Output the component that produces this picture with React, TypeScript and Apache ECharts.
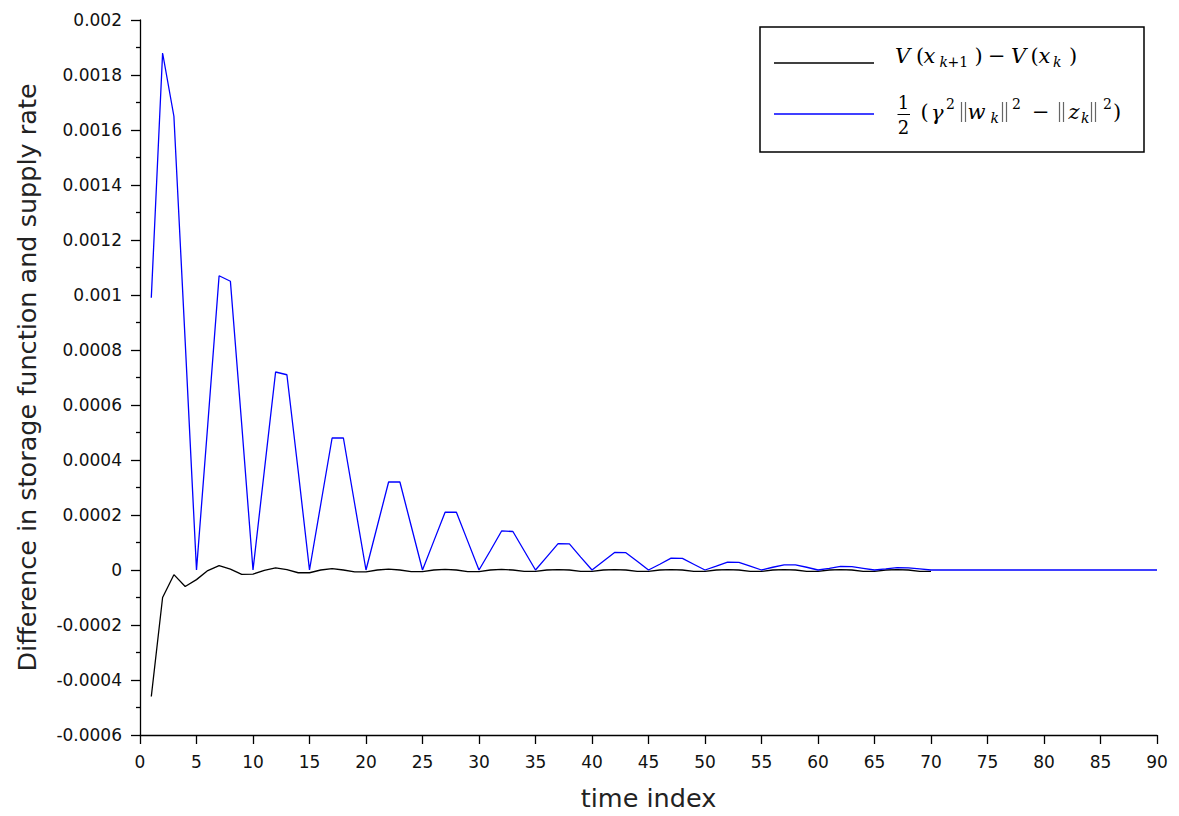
import React, { useEffect, useRef } from "react";
import * as echarts from "echarts";

const timeIndex: number[] = Array.from({ length: 90 }, (_, i) => i + 1);

// V(x_{k+1}) - V(x_k), k = 1..70
const storageDiff: number[] = [
  -0.00046, -0.0001, -0.000017, -0.00006, -0.000035,
  -0.000002, 0.000016, 0.000003, -0.000016, -0.000015,
  -0.000001, 0.000008, 0.000001, -0.00001, -0.00001,
  0.0, 0.000005, 0.0, -0.000007, -0.000007,
  0.0, 0.000003, 0.0, -0.000006, -0.000006,
  0.0, 0.000002, 0.0, -0.000006, -0.000006,
  0.0, 0.000002, 0.0, -0.000005, -0.000005,
  0.0, 0.000001, 0.0, -0.000005, -0.000005,
  0.0, 0.000001, 0.0, -0.000005, -0.000005,
  0.0, 0.000001, 0.0, -0.000005, -0.000005,
  0.0, 0.000001, 0.0, -0.000005, -0.000005,
  0.0, 0.000001, 0.0, -0.000005, -0.000005,
  0.0, 0.000001, 0.0, -0.000005, -0.000005,
  0.0, 0.000001, 0.0, -0.000005, -0.000005,
];

// 1/2 (gamma^2 ||w_k||^2 - ||z_k||^2), k = 1..90
const supplyRate: number[] = [
  0.00099, 0.00188, 0.00165, 0.00083, 0.0,
  0.00053, 0.00107, 0.00105, 0.00053, 0.0,
  0.00036, 0.00072, 0.00071, 0.00036, 0.0,
  0.00024, 0.00048, 0.00048, 0.00024, 0.0,
  0.00016, 0.00032, 0.00032, 0.00016, 0.0,
  0.000105, 0.00021, 0.00021, 0.000105, 0.0,
  0.00007, 0.000142, 0.00014, 0.00007, 0.0,
  0.000048, 0.000096, 0.000095, 0.000047, 0.0,
  0.000032, 0.000064, 0.000063, 0.000032, 0.0,
  0.000021, 0.000043, 0.000042, 0.000021, 0.0,
  0.000014, 0.000029, 0.000028, 0.000014, 0.0,
  0.00001, 0.000019, 0.000019, 0.00001, 0.0,
  0.000006, 0.000013, 0.000012, 0.000006, 0.0,
  0.000004, 0.000009, 0.000008, 0.000004, 0.0,
  0.0, 0.0, 0.0, 0.0, 0.0,
  0.0, 0.0, 0.0, 0.0, 0.0,
  0.0, 0.0, 0.0, 0.0, 0.0,
  0.0, 0.0, 0.0, 0.0, 0.0,
];

const xAxisName = "time index";
const yAxisName = "Difference in storage function and supply rate";

const SERIF = "'DejaVu Serif', 'Liberation Serif', serif";
const SANS = "'DejaVu Sans', sans-serif";

type Piece = [string, number, number, number, boolean];

// legend math: [text, left x, center y, font size, italic]
const line1: Piece[] = [
  ["V", 895, 56, 21, true],
  ["(", 916, 56, 21, false],
  ["x", 923.5, 56, 21, true],
  ["k", 939.5, 62, 14, true],
  ["+1", 947.5, 62, 14, false],
  [")", 974.5, 56, 21, false],
  ["−", 988, 56, 21, false],
  ["V", 1011, 56, 21, true],
  ["(", 1030.5, 56, 21, false],
  ["x", 1038.5, 56, 21, true],
  ["k", 1053, 62, 14, true],
  [")", 1069, 56, 21, false],
];

const line2: Piece[] = [
  ["1", 903.5, 102, 18, false],
  ["2", 903.5, 127, 18, false],
  ["(", 920.5, 112, 21, false],
  ["γ", 931, 113, 21, true],
  ["2", 946, 104, 14, false],
  ["w", 967.5, 112, 21, true],
  ["k", 990.5, 118, 14, true],
  ["2", 1012, 104, 14, false],
  ["−", 1032, 112, 21, false],
  ["z", 1068.5, 112, 21, true],
  ["k", 1081, 118, 14, true],
  ["2", 1103, 104, 14, false],
  [")", 1113, 112, 21, false],
];

// double bars ‖ : left x of each
const bars2: number[] = [960.5, 1001.5, 1058.5, 1090.5];

export default function App() {
  const ref = useRef<HTMLDivElement>(null);

  useEffect(() => {
    if (!ref.current) return;
    const chart = echarts.init(ref.current, null, { renderer: "svg" });

    const pieceEl = (p: Piece, center = false) => ({
      type: "text",
      x: p[1],
      y: p[2],
      style: {
        text: p[0],
        fontFamily: SERIF,
        fontSize: p[3],
        fontStyle: p[4] ? "italic" : "normal",
        fill: "#000",
        align: center ? "center" : "left",
        verticalAlign: "middle",
      },
    });

    const legendChildren: any[] = [
      {
        type: "rect",
        shape: { x: 760, y: 27, width: 384, height: 125 },
        style: { fill: "#fff", stroke: "#000", lineWidth: 1.5 },
      },
      {
        type: "line",
        shape: { x1: 774, y1: 63, x2: 874, y2: 63 },
        style: { stroke: "#000", lineWidth: 1.3 },
      },
      {
        type: "line",
        shape: { x1: 774, y1: 114, x2: 874, y2: 114 },
        style: { stroke: "#0000ff", lineWidth: 1.3 },
      },
      ...line1.map((p) => pieceEl(p)),
      pieceEl(line2[0], true),
      pieceEl(line2[1], true),
      {
        type: "line",
        shape: { x1: 897.5, y1: 114.5, x2: 910, y2: 114.5 },
        style: { stroke: "#000", lineWidth: 1 },
      },
      ...line2.slice(2).map((p) => pieceEl(p)),
    ];
    bars2.forEach((bx) => {
      legendChildren.push({
        type: "line",
        shape: { x1: bx + 1, y1: 102, x2: bx + 1, y2: 122 },
        style: { stroke: "#666", lineWidth: 1.2 },
      });
      legendChildren.push({
        type: "line",
        shape: { x1: bx + 5, y1: 102, x2: bx + 5, y2: 122 },
        style: { stroke: "#666", lineWidth: 1.2 },
      });
    });

    chart.setOption({
      animation: false,
      backgroundColor: "#fff",
      grid: { left: 140, right: 22, top: 20, bottom: 80, containLabel: false },
      xAxis: {
        type: "value",
        min: 0,
        max: 90,
        interval: 5,
        name: xAxisName,
        nameLocation: "middle",
        nameGap: 50,
        nameTextStyle: { fontFamily: SANS, fontSize: 25.5, color: "#222" },
        axisLine: { show: true, onZero: false, lineStyle: { color: "#000", width: 1.3 } },
        axisTick: { show: true, inside: false, length: 9, lineStyle: { color: "#000", width: 1.3 } },
        axisLabel: { fontFamily: SANS, fontSize: 17, color: "#111", margin: 18 },
        splitLine: { show: false },
      },
      yAxis: {
        type: "value",
        min: -0.0006,
        max: 0.002,
        interval: 0.0002,
        name: yAxisName,
        nameLocation: "middle",
        nameGap: 100,
        nameTextStyle: { fontFamily: SANS, fontSize: 25.5, color: "#222" },
        axisLine: { show: true, onZero: false, lineStyle: { color: "#000", width: 1.3 } },
        axisTick: { show: true, inside: false, length: 9, lineStyle: { color: "#000", width: 1.3 } },
        minorTick: { show: true, splitNumber: 2, length: 4, lineStyle: { color: "#000", width: 1.3 } },
        axisLabel: {
          fontFamily: SANS,
          fontSize: 17,
          color: "#111",
          margin: 18,
          formatter: (v: number) => String(parseFloat(v.toFixed(6))),
        },
        splitLine: { show: false },
      },
      series: [
        {
          name: "storage",
          type: "line",
          data: storageDiff.map((v, i) => [timeIndex[i], v]),
          showSymbol: false,
          symbol: "none",
          lineStyle: { color: "#000", width: 1.3 },
          z: 2,
        },
        {
          name: "supply",
          type: "line",
          data: supplyRate.map((v, i) => [timeIndex[i], v]),
          showSymbol: false,
          symbol: "none",
          lineStyle: { color: "#0000ff", width: 1.3 },
          z: 3,
        },
      ],
      graphic: [{ type: "group", z: 100, children: legendChildren }],
    });

    return () => chart.dispose();
  }, []);

  return (
    <div
      ref={ref}
      style={{ position: "fixed", left: 0, top: 0, width: 1179, height: 816, background: "#fff" }}
    />
  );
}
